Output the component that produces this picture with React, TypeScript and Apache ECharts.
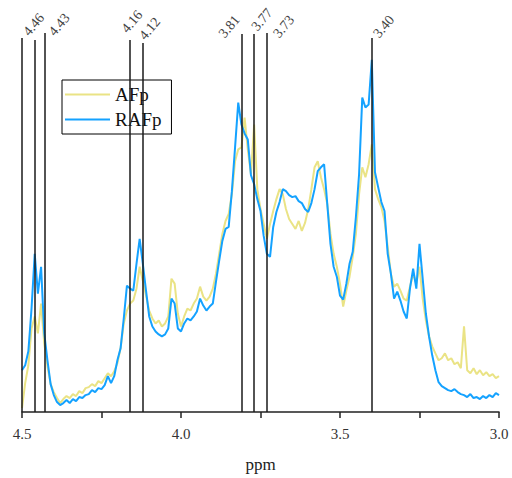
import React, { useEffect, useRef } from "react";
import * as echarts from "echarts";

// Spectrum sampled every 0.01 ppm from 4.50 down to 3.00 (arbitrary intensity units)
const ppmStart = 4.5;
const ppmStep = 0.01;

const afp = [
  4, 29, 47, 84, 96, 79, 109, 69, 46, 28,
  20, 14, 9, 13, 16, 14, 18, 16, 21, 19,
  24, 25, 28, 26, 31, 29, 34, 39, 36, 41,
  49, 64, 89, 102, 109, 112, 124, 146, 132, 117,
  102, 94, 89, 92, 86, 89, 96, 134, 129, 99,
  86, 96, 104, 102, 109, 114, 126, 116, 112, 116,
  124, 139, 159, 179, 192, 199, 219, 252, 264, 266,
  296, 264, 239, 289, 224, 204, 189, 174, 189, 202,
  214, 224, 219, 204, 194, 189, 184, 192, 182, 190,
  204, 224, 246, 252, 236, 224, 209, 179, 159, 146,
  129, 106, 122, 136, 156, 179, 219, 246, 236, 249,
  269, 224, 214, 206, 192, 166, 139, 126, 129, 122,
  114, 112, 126, 139, 129, 146, 114, 92, 76, 66,
  59, 52, 54, 59, 52, 54, 48, 50, 44, 86,
  42, 39, 44, 38, 42, 37, 40, 36, 38, 34,
  36,
];

const rafp = [
  42, 47, 61, 104, 159, 119, 146, 79, 52, 28,
  17, 10, 7, 9, 12, 9, 13, 11, 15, 14,
  17, 18, 22, 20, 24, 23, 27, 36, 29, 36,
  52, 64, 94, 127, 124, 122, 149, 174, 149, 122,
  96, 86, 81, 78, 76, 78, 84, 114, 109, 84,
  81, 89, 94, 92, 96, 101, 114, 107, 102, 106,
  109, 131, 152, 172, 184, 186, 222, 266, 311, 289,
  280, 274, 238, 229, 214, 202, 177, 159, 156, 186,
  201, 211, 224, 222, 218, 216, 217, 212, 210, 204,
  201, 210, 224, 242, 246, 249, 209, 169, 146, 136,
  117, 113, 129, 149, 161, 196, 239, 316, 306, 309,
  354, 241, 226, 211, 202, 159, 139, 114, 121, 112,
  101, 94, 124, 144, 124, 169, 134, 99, 76, 57,
  42, 30, 26, 24, 22, 21, 23, 20, 18, 17,
  15, 18, 14, 15, 13, 16, 14, 17, 15, 19,
  17,
];

const markerPpm = [4.46, 4.43, 4.16, 4.12, 3.81, 3.77, 3.73, 3.4];
const markerTop = [374, 381, 374, 371, 380, 380, 381, 376];
const markerLabels = ["4.46", "4.43", "4.16", "4.12", "3.81", "3.77", "3.73", "3.40"];
const xTickLabels = [4.5, 4.0, 3.5, 3.0];

// label placement nudges (px) relative to the top of each marker line
const labelNudge = [
  [-9, -6], [7, 1], [-6, -9], [-1, -5], [-20, 2], [0, -5], [9, 3], [4, -2],
];

const SERIF = "Liberation Serif";
const YELLOW = "#EAE385";
const BLUE = "#14A2FF";

export default function App() {
  const ref = useRef<HTMLDivElement>(null);

  useEffect(() => {
    if (!ref.current) return;
    const chart = echarts.init(ref.current, undefined, { renderer: "svg" });

    const toPairs = (arr: number[]) =>
      arr.map((v, i) => [+(ppmStart - i * ppmStep).toFixed(2), v]);

    chart.setOption({
      animation: false,
      grid: { left: 22, right: 13, top: 24, bottom: 64, containLabel: false },
      legend: {
        data: ["AFp", "RAFp"],
        orient: "vertical",
        left: 62,
        top: 80,
        padding: [4, 10, 4, 3],
        itemGap: 4,
        itemWidth: 45,
        itemHeight: 2,
        icon: "rect",
        borderColor: "#000",
        borderWidth: 1,
        borderRadius: 0,
        backgroundColor: "#fff",
        textStyle: { fontFamily: SERIF, fontSize: 19, color: "#111", lineHeight: 21 },
      },
      xAxis: {
        type: "value",
        inverse: true,
        min: 3,
        max: 4.5,
        interval: 0.25,
        name: "ppm",
        nameLocation: "middle",
        nameGap: 44,
        nameTextStyle: { fontFamily: SERIF, fontSize: 17, color: "#222" },
        axisLine: { show: true, lineStyle: { color: "#222", width: 1.5 } },
        axisTick: { show: true, inside: false, length: 6, lineStyle: { color: "#222", width: 1.5 } },
        axisLabel: {
          margin: 14,
          fontFamily: SERIF,
          fontSize: 15,
          color: "#333",
          formatter: (v: number) =>
            xTickLabels.some((t) => Math.abs(t - v) < 1e-6) ? v.toFixed(1) : "",
        },
        splitLine: { show: false },
      },
      yAxis: {
        type: "value",
        min: 0,
        max: 390,
        axisLine: { show: false },
        axisTick: { show: false },
        axisLabel: { show: false },
        splitLine: { show: false },
      },
      series: [
        {
          name: "AFp",
          type: "line",
          z: 2,
          symbol: "none",
          data: toPairs(afp),
          lineStyle: { color: YELLOW, width: 2 },
          itemStyle: { color: YELLOW },
          markLine: {
            silent: true,
            symbol: ["none", "none"],
            label: { show: false },
            lineStyle: { color: "#1a1a1a", width: 1.5, type: "solid" },
            data: [
              [{ coord: [ppmStart, 0] }, { coord: [ppmStart, 376] }],
              ...markerPpm.map((p, i) => [
                { coord: [p, 0] },
                { coord: [p, markerTop[i]] },
              ]),
            ],
          },
        },
        {
          name: "RAFp",
          type: "line",
          z: 3,
          symbol: "none",
          data: toPairs(rafp),
          lineStyle: { color: BLUE, width: 2 },
          itemStyle: { color: BLUE },
        },
      ],
    });

    const graphics = markerPpm.map((p, i) => {
      const pt = chart.convertToPixel({ xAxisIndex: 0, yAxisIndex: 0 }, [p, markerTop[i]]) as number[];
      return {
        type: "text",
        x: pt[0] + labelNudge[i][0],
        y: pt[1] + labelNudge[i][1],
        rotation: (50 * Math.PI) / 180,
        silent: true,
        style: {
          text: markerLabels[i],
          x: 0,
          y: 0,
          fill: "#444",
          fontFamily: SERIF,
          fontSize: 14,
          align: "left",
          verticalAlign: "middle",
        },
      };
    });
    chart.setOption({ graphic: graphics });

    return () => chart.dispose();
  }, []);

  return (
    <div
      ref={ref}
      style={{ position: "fixed", left: 0, top: 0, width: 512, height: 478, background: "#fff" }}
    />
  );
}
